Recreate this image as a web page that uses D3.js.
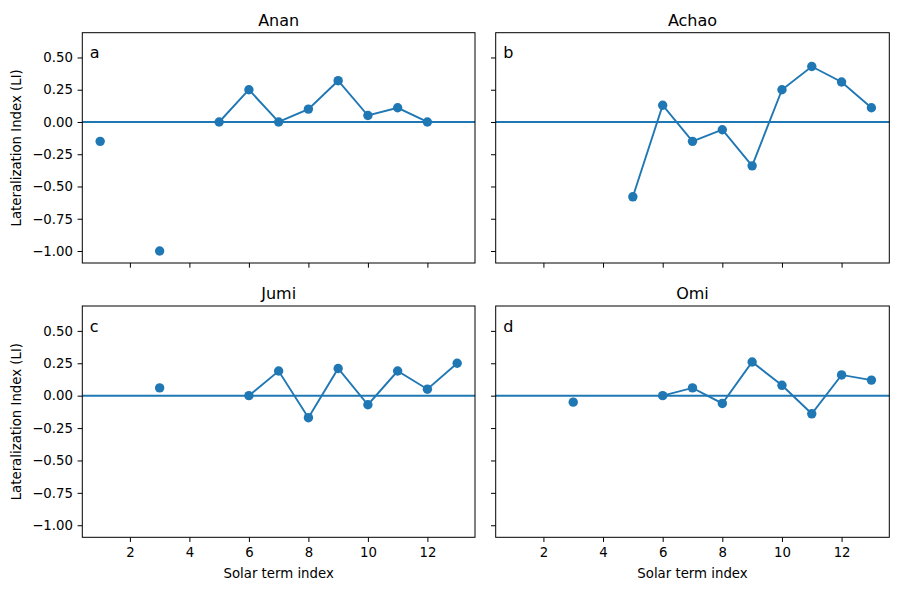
<!DOCTYPE html>
<html><head><meta charset="utf-8">
<script src="https://cdn.jsdelivr.net/npm/d3@7"></script>
<style>body{margin:0;background:#fff}text{font-family:"DejaVu Sans",sans-serif}</style>
</head><body>
<svg id="c" width="898" height="590"></svg>
<script>
const xIndex = [1,2,3,4,5,6,7,8,9,10,11,12,13];
const ananLI  = [-0.15, null, -1.00, null, 0.00, 0.25, 0.00, 0.10, 0.32, 0.05, 0.11, 0.00, null];
const achaoLI = [null, null, null, null, -0.58, 0.13, -0.15, -0.06, -0.34, 0.25, 0.43, 0.31, 0.11];
const jumiLI  = [null, null, 0.06, null, null, 0.00, 0.19, -0.17, 0.21, -0.07, 0.19, 0.05, 0.25];
const omiLI   = [null, null, -0.05, null, null, 0.00, 0.06, -0.06, 0.26, 0.08, -0.14, 0.16, 0.12];
const panelTitles = ["Anan","Achao","Jumi","Omi"];
const panelLetters = ["a","b","c","d"];
const xTicks = [2,4,6,8,10,12];
const yTicks = [0.5,0.25,0,-0.25,-0.5,-0.75,-1.0];
const series = [ananLI, achaoLI, jumiLI, omiLI];

const color = "#1f77b4";
const svg = d3.select("#c");
const panels = [
  {x0:82.3, x1:475, y0:32.7, y1:263, col:0, row:0},
  {x0:495.7, x1:889.3, y0:32.7, y1:263, col:1, row:0},
  {x0:82.3, x1:475, y0:306, y1:537.3, col:0, row:1},
  {x0:495.7, x1:889.3, y0:306, y1:537.3, col:1, row:1}
];
const fmt = d => (d<0?"\u2212":"") + Math.abs(d).toFixed(2);

panels.forEach((p,i)=>{
  const x = d3.scaleLinear().domain([0.4,13.6]).range([p.x0,p.x1]);
  const y = d3.scaleLinear().domain([-1.093,0.692]).range([p.y1,p.y0]);
  const g = svg.append("g");
  const data = xIndex.map((k,j)=>({x:k, y:series[i][j]}));

  g.append("line").attr("x1",p.x0).attr("x2",p.x1).attr("y1",y(0)).attr("y2",y(0))
    .attr("stroke",color).attr("stroke-width",2);
  const line = d3.line().defined(d=>d.y!==null).x(d=>x(d.x)).y(d=>y(d.y));
  g.append("path").attr("d",line(data)).attr("fill","none").attr("stroke",color).attr("stroke-width",1.9);
  g.selectAll("circle").data(data.filter(d=>d.y!==null)).enter().append("circle")
    .attr("cx",d=>x(d.x)).attr("cy",d=>y(d.y)).attr("r",4.7).attr("fill",color);

  const xa = g.append("g").attr("transform",`translate(0,${p.y1})`)
    .call(d3.axisBottom(x).tickValues(xTicks).tickSize(4.7).tickPadding(6).tickFormat(p.row===1?d3.format("d"):""));
  const ya = g.append("g").attr("transform",`translate(${p.x0},0)`)
    .call(d3.axisLeft(y).tickValues(yTicks).tickSize(4.7).tickPadding(4.7).tickFormat(p.col===0?fmt:""));
  [xa,ya].forEach(a=>{a.select(".domain").remove();
    a.selectAll("line").attr("stroke","#000").attr("stroke-width",1);
    a.selectAll("text").attr("fill","#000").style("font-size","13.3px").style("font-family","DejaVu Sans");});

  g.append("rect").attr("x",p.x0).attr("y",p.y0).attr("width",p.x1-p.x0).attr("height",p.y1-p.y0)
    .attr("fill","none").attr("stroke","#000").attr("stroke-width",1);

  g.append("text").attr("x",(p.x0+p.x1)/2).attr("y",p.y0-6.7).attr("text-anchor","middle")
    .style("font-size","16px").text(panelTitles[i]);
  g.append("text").attr("x",p.x0+7.5).attr("y",p.y0+25.5)
    .style("font-size","16px").text(panelLetters[i]);

  if(p.col===0){
    g.append("text").attr("transform",`translate(21,${(p.y0+p.y1)/2}) rotate(-90)`)
      .attr("text-anchor","middle").style("font-size","13.3px").text("Lateralization Index (LI)");
  }
  if(p.row===1){
    g.append("text").attr("x",(p.x0+p.x1)/2).attr("y",578).attr("text-anchor","middle")
      .style("font-size","13.3px").text("Solar term index");
  }
});
</script>
</body></html>
